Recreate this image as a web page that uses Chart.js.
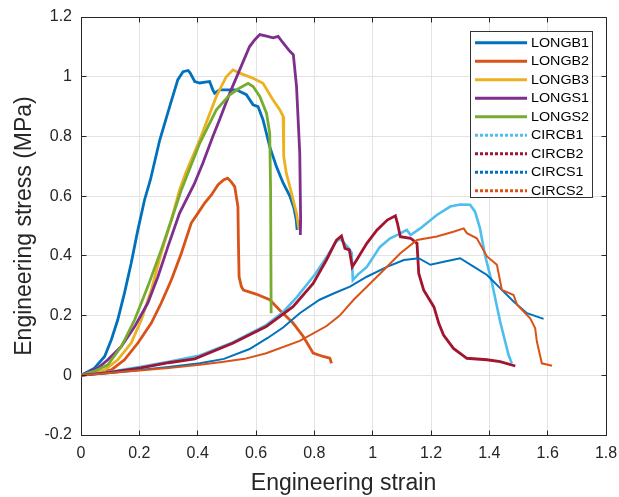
<!DOCTYPE html>
<html>
<head>
<meta charset="utf-8">
<title>Engineering stress vs strain</title>
<script src="https://cdn.jsdelivr.net/npm/chart.js@4.4.1/dist/chart.umd.min.js"></script>
<style>
  html, body { margin: 0; padding: 0; background: #fff; }
  #wrap { width: 619px; height: 497px; position: relative; }
</style>
</head>
<body>
<div id="wrap"><canvas id="stressChart"></canvas></div>
<script>
// legend order = drawing order
const seriesNames = ['LONGB1', 'LONGB2', 'LONGB3', 'LONGS1', 'LONGS2', 'CIRCB1', 'CIRCB2', 'CIRCS1', 'CIRCS2'];

// [strain, stress in MPa]
const longB1 = [[0,0],[0.046,0.024],[0.081,0.063],[0.104,0.119],[0.126,0.186],[0.149,0.275],[0.172,0.375],[0.195,0.487],[0.218,0.588],[0.238,0.655],[0.27,0.788],[0.304,0.9],[0.332,0.99],[0.35,1.017],[0.367,1.021],[0.374,1.013],[0.39,0.984],[0.407,0.979],[0.425,0.982],[0.441,0.984],[0.452,0.956],[0.458,0.945],[0.475,0.956],[0.533,0.956],[0.567,0.94],[0.59,0.906],[0.607,0.9],[0.624,0.856],[0.647,0.766],[0.67,0.699],[0.693,0.644],[0.716,0.6],[0.73,0.56],[0.738,0.52],[0.741,0.487]];
const longB2 = [[0,0],[0.05,0.008],[0.104,0.018],[0.149,0.052],[0.195,0.108],[0.241,0.175],[0.275,0.242],[0.31,0.32],[0.344,0.409],[0.378,0.51],[0.401,0.543],[0.424,0.577],[0.447,0.604],[0.47,0.638],[0.49,0.655],[0.503,0.66],[0.515,0.648],[0.527,0.632],[0.538,0.565],[0.54,0.43],[0.542,0.33],[0.55,0.297],[0.557,0.285],[0.6,0.272],[0.647,0.253],[0.681,0.219],[0.727,0.175],[0.762,0.13],[0.796,0.074],[0.83,0.063],[0.853,0.057],[0.859,0.04]];
const longB3 = [[0,0],[0.04,0.005],[0.081,0.018],[0.126,0.052],[0.172,0.108],[0.207,0.186],[0.241,0.286],[0.275,0.409],[0.31,0.521],[0.338,0.621],[0.36,0.68],[0.407,0.788],[0.464,0.934],[0.498,1.0],[0.521,1.023],[0.544,1.012],[0.59,0.995],[0.624,0.978],[0.658,0.923],[0.681,0.89],[0.693,0.867],[0.695,0.733],[0.704,0.677],[0.716,0.632],[0.739,0.543],[0.747,0.49]];
const longS1 = [[0,0],[0.058,0.024],[0.092,0.052],[0.138,0.096],[0.184,0.163],[0.229,0.242],[0.264,0.331],[0.298,0.431],[0.338,0.543],[0.388,0.64],[0.418,0.711],[0.452,0.8],[0.475,0.856],[0.51,0.945],[0.544,1.023],[0.578,1.101],[0.596,1.124],[0.613,1.141],[0.636,1.136],[0.659,1.13],[0.676,1.135],[0.693,1.113],[0.716,1.085],[0.728,1.074],[0.739,0.967],[0.75,0.744],[0.753,0.52],[0.752,0.47]];
const longS2 = [[0,0],[0.05,0.015],[0.092,0.035],[0.138,0.096],[0.184,0.186],[0.229,0.297],[0.275,0.42],[0.31,0.52],[0.344,0.621],[0.407,0.777],[0.464,0.889],[0.51,0.939],[0.544,0.962],[0.573,0.978],[0.59,0.967],[0.613,0.934],[0.636,0.878],[0.647,0.811],[0.65,0.621],[0.652,0.208]];
const circB1 = [[0,0],[0.1,0.012],[0.2,0.028],[0.3,0.045],[0.407,0.066],[0.52,0.11],[0.635,0.168],[0.693,0.212],[0.74,0.262],[0.8,0.335],[0.842,0.395],[0.872,0.445],[0.888,0.458],[0.9,0.445],[0.918,0.425],[0.928,0.41],[0.932,0.319],[0.95,0.338],[0.98,0.363],[1.025,0.43],[1.06,0.459],[1.085,0.47],[1.117,0.487],[1.13,0.47],[1.163,0.492],[1.22,0.537],[1.266,0.565],[1.3,0.572],[1.334,0.571],[1.351,0.548],[1.368,0.492],[1.385,0.403],[1.408,0.314],[1.437,0.18],[1.466,0.068],[1.477,0.04]];
const circB2 = [[0,0],[0.1,0.01],[0.206,0.025],[0.3,0.042],[0.39,0.055],[0.52,0.107],[0.635,0.163],[0.727,0.23],[0.796,0.308],[0.842,0.387],[0.876,0.453],[0.893,0.467],[0.905,0.425],[0.92,0.42],[0.93,0.363],[0.945,0.386],[0.98,0.442],[1.015,0.487],[1.05,0.52],[1.078,0.534],[1.085,0.509],[1.095,0.464],[1.13,0.459],[1.152,0.442],[1.158,0.341],[1.175,0.285],[1.21,0.229],[1.227,0.173],[1.243,0.135],[1.277,0.09],[1.323,0.057],[1.392,0.052],[1.437,0.046],[1.489,0.031]];
const circS1 = [[0,0],[0.1,0.008],[0.2,0.018],[0.3,0.028],[0.407,0.04],[0.49,0.055],[0.578,0.088],[0.64,0.125],[0.693,0.16],[0.75,0.208],[0.818,0.253],[0.866,0.274],[0.922,0.297],[0.98,0.33],[1.049,0.363],[1.107,0.386],[1.158,0.392],[1.198,0.37],[1.244,0.38],[1.3,0.392],[1.346,0.364],[1.392,0.336],[1.437,0.292],[1.483,0.247],[1.529,0.208],[1.586,0.189]];
const circS2 = [[0,0],[0.1,0.008],[0.2,0.016],[0.3,0.024],[0.407,0.035],[0.49,0.045],[0.561,0.055],[0.635,0.074],[0.75,0.115],[0.842,0.165],[0.887,0.2],[0.934,0.252],[1.026,0.341],[1.094,0.408],[1.152,0.453],[1.22,0.465],[1.277,0.481],[1.312,0.492],[1.323,0.476],[1.357,0.459],[1.392,0.398],[1.426,0.37],[1.443,0.286],[1.483,0.269],[1.495,0.236],[1.54,0.191],[1.557,0.158],[1.563,0.113],[1.58,0.04],[1.615,0.032]];

const xTicks = [0, 0.2, 0.4, 0.6, 0.8, 1, 1.2, 1.4, 1.6, 1.8];
const yTicks = [-0.2, 0, 0.2, 0.4, 0.6, 0.8, 1, 1.2];

// MATLAB default line colours
const lineColors = ['#0072BD', '#D95319', '#EDB120', '#7E2F8E', '#77AC30', '#4DBEEE', '#A2142F', '#0072BD', '#D95319'];
const lineWidths = [2.8, 2.8, 2.8, 2.8, 2.8, 2.6, 2.8, 2, 2];
const dotted = [false, false, false, false, false, true, true, true, true];

const seriesData = [longB1, longB2, longB3, longS1, longS2, circB1, circB2, circS1, circS2];
const textColor = '#262626';
const fontFamily = '"Liberation Sans", Arial, Helvetica, sans-serif';

function alignPx(v) {
    return Math.round(v - 0.5) + 0.5;
}

// box on all four sides, ticks pointing in, legend inside the axes
const framePlugin = {
    id: 'frame',
    afterDraw(chart) {
        const { ctx, chartArea: a, scales } = chart;
        const xs = scales.x, ys = scales.y;
        const L = alignPx(a.left), R = alignPx(a.right), T = alignPx(a.top), B = alignPx(a.bottom);
        ctx.save();
        ctx.strokeStyle = textColor;
        ctx.lineWidth = 1;
        ctx.beginPath();
        ctx.moveTo(L, T); ctx.lineTo(R, T); ctx.lineTo(R, B);
        xTicks.forEach(v => {
            const px = alignPx(xs.getPixelForValue(v));
            ctx.moveTo(px, B); ctx.lineTo(px, B - 5);
            ctx.moveTo(px, T); ctx.lineTo(px, T + 5);
        });
        yTicks.forEach(v => {
            const py = alignPx(ys.getPixelForValue(v));
            ctx.moveTo(L, py); ctx.lineTo(L + 5, py);
            ctx.moveTo(R, py); ctx.lineTo(R - 5, py);
        });
        ctx.stroke();

        // legend
        const boxX = 470.5, boxY = 31.5, boxW = 122, boxH = 166;
        ctx.fillStyle = '#fff';
        ctx.fillRect(boxX, boxY, boxW, boxH);
        ctx.strokeStyle = '#333';
        ctx.strokeRect(boxX, boxY, boxW, boxH);
        ctx.font = '13px ' + fontFamily;
        ctx.textBaseline = 'middle';
        ctx.textAlign = 'left';
        chart.data.datasets.forEach((ds, i) => {
            const yy = 42.7 + i * 18.5;
            ctx.strokeStyle = ds.borderColor;
            ctx.lineWidth = 3;
            ctx.setLineDash(dotted[i] ? [3, 2] : []);
            ctx.beginPath();
            ctx.moveTo(475, yy);
            ctx.lineTo(527, yy);
            ctx.stroke();
            ctx.fillStyle = '#000';
            ctx.save();
            ctx.translate(531, yy + 0.5);
            ctx.scale(1.1, 1);  // the original font runs a bit wider
            ctx.fillText(ds.label, 0, 0);
            ctx.restore();
        });
        ctx.restore();
    }
};

const datasets = seriesNames.map((name, i) => ({
    label: name,
    data: seriesData[i],
    borderColor: lineColors[i],
    backgroundColor: lineColors[i],
    borderWidth: lineWidths[i],
    pointRadius: 0,
    tension: 0,
    fill: false,
    order: seriesNames.length - i  // later series on top, like MATLAB
}));

const ctx = document.getElementById('stressChart').getContext('2d');
const stressChart = new Chart(ctx, {
    type: 'line',
    data: { datasets: datasets },
    options: {
        responsive: true,
        maintainAspectRatio: false,
        animation: false,
        layout: { padding: { top: 17, right: 13, left: 0, bottom: 0 } },
        plugins: {
            legend: { display: false },
            tooltip: { enabled: false }
        },
        scales: {
            x: {
                type: 'linear',
                min: 0,
                max: 1.8,
                afterBuildTicks: s => { s.ticks = xTicks.map(v => ({ value: v })); },
                afterFit: s => { s.height = 62; s.paddingLeft = 0; s.paddingRight = 0; },
                grid: { color: '#e3e3e3', drawTicks: false },
                border: { color: textColor, width: 1 },
                ticks: {
                    padding: 9,
                    color: textColor,
                    font: { size: 16, family: fontFamily },
                    maxRotation: 0,
                    callback: v => String(v)
                },
                title: {
                    display: true,
                    text: 'Engineering strain',
                    color: textColor,
                    font: { size: 23, family: fontFamily },
                    padding: { top: 0, bottom: 0 }
                }
            },
            y: {
                type: 'linear',
                min: -0.2,
                max: 1.2,
                afterBuildTicks: s => { s.ticks = yTicks.map(v => ({ value: v })); },
                afterFit: s => { s.width = 81; s.paddingTop = 0; s.paddingBottom = 0; },
                grid: { color: '#e3e3e3', drawTicks: false },
                border: { color: textColor, width: 1 },
                ticks: {
                    padding: 9,
                    color: textColor,
                    font: { size: 16, family: fontFamily },
                    callback: v => String(v)
                },
                title: {
                    display: true,
                    text: 'Engineering stress (MPa)',
                    color: textColor,
                    font: { size: 23, family: fontFamily },
                    padding: { top: 11, bottom: 0 }
                }
            }
        }
    },
    plugins: [framePlugin]
});
</script>
</body>
</html>
